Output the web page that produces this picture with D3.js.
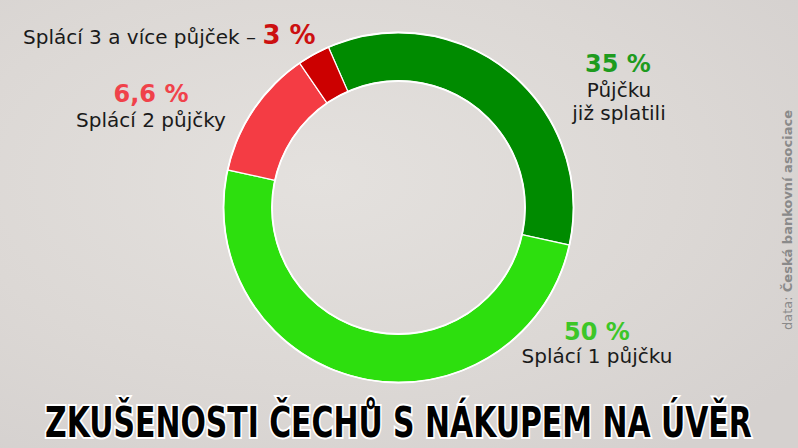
<!DOCTYPE html>
<html>
<head>
<meta charset="utf-8">
<script src="https://cdn.jsdelivr.net/npm/d3@7"></script>
<style>
  body { margin: 0; }
  svg { display: block; }
</style>
</head>
<body>
<div id="chart"></div>
<script>
document.addEventListener("DOMContentLoaded", function() {

  // slice shares as drawn (percent of the ring)
  const categories = ["Půjčku již splatili", "Splácí 1 půjčku", "Splácí 2 půjčky", "Splácí 3 a více půjček"];
  const shares = [35, 50, 12, 3];
  const valueLabels = ["35 %", "50 %", "6,6 %", "3 %"];
  const colors = ["#008b00", "#2ddf0e", "#f43c44", "#cc0000"];
  const labelColors = ["#1e9b1e", "#3cc628", "#f0424a", "#cc1010"];

  const width = 798;
  const height = 448;
  const cx = 398.5, cy = 207.5;
  const outerR = 175, innerR = 126.5;

  const svg = d3.select("#chart")
                .append("svg")
                .attr("width", width)
                .attr("height", height);

  // background
  const defs = svg.append("defs");
  const bg = defs.append("radialGradient")
                 .attr("id", "bg")
                 .attr("cx", "40%").attr("cy", "40%").attr("r", "75%");
  bg.append("stop").attr("offset", "0%").attr("stop-color", "#e4e1de");
  bg.append("stop").attr("offset", "60%").attr("stop-color", "#dcd8d5");
  bg.append("stop").attr("offset", "100%").attr("stop-color", "#d5d1cf");
  svg.append("rect")
     .attr("width", width).attr("height", height)
     .attr("fill", "url(#bg)");

  const pie = d3.pie()
                .sort(null)
                .startAngle(-23.6 * Math.PI / 180)
                .endAngle(2 * Math.PI - 23.6 * Math.PI / 180)
                .value(d => d);

  const arc = d3.arc()
                .innerRadius(innerR)
                .outerRadius(outerR);

  const g = svg.append("g")
               .attr("transform", `translate(${cx},${cy})`);

  g.selectAll("path.slice")
   .data(pie(shares))
   .enter().append("path")
   .attr("class", "slice")
   .attr("d", arc)
   .attr("fill", (d, i) => colors[i])
   .attr("stroke", "#ffffff")
   .attr("stroke-width", 1.2);

  // white rims
  g.append("circle").attr("r", outerR).attr("fill", "none").attr("stroke", "#fff").attr("stroke-width", 1.8);
  g.append("circle").attr("r", innerR).attr("fill", "none").attr("stroke", "#fff").attr("stroke-width", 1.8);

  const font = "'DejaVu Sans', sans-serif";
  const labelSize = "20px";
  const valueSize = "24px";

  // 35 %
  svg.append("text")
     .attr("x", 618).attr("y", 72)
     .attr("text-anchor", "middle")
     .style("font-family", font).style("font-weight", "bold").style("font-size", valueSize)
     .attr("fill", labelColors[0])
     .text(valueLabels[0]);
  svg.append("text")
     .attr("x", 619).attr("y", 97)
     .attr("text-anchor", "middle")
     .style("font-family", font).style("font-size", labelSize)
     .attr("fill", "#1a1a1a")
     .text("Půjčku");
  svg.append("text")
     .attr("x", 619).attr("y", 120)
     .attr("text-anchor", "middle")
     .style("font-family", font).style("font-size", labelSize)
     .attr("fill", "#1a1a1a")
     .text("již splatili");

  // 50 %
  svg.append("text")
     .attr("x", 597).attr("y", 340)
     .attr("text-anchor", "middle")
     .style("font-family", font).style("font-weight", "bold").style("font-size", valueSize)
     .attr("fill", labelColors[1])
     .text(valueLabels[1]);
  svg.append("text")
     .attr("x", 597).attr("y", 363)
     .attr("text-anchor", "middle")
     .style("font-family", font).style("font-size", labelSize)
     .attr("fill", "#1a1a1a")
     .text(categories[1]);

  // 6,6 %
  svg.append("text")
     .attr("x", 151).attr("y", 102)
     .attr("text-anchor", "middle")
     .style("font-family", font).style("font-weight", "bold").style("font-size", valueSize)
     .attr("fill", labelColors[2])
     .text(valueLabels[2]);
  svg.append("text")
     .attr("x", 151).attr("y", 127)
     .attr("text-anchor", "middle")
     .style("font-family", font).style("font-size", labelSize)
     .attr("fill", "#1a1a1a")
     .text(categories[2]);

  // 3 %
  const t3 = svg.append("text")
     .attr("x", 23).attr("y", 44)
     .style("font-family", font).style("font-size", labelSize)
     .attr("fill", "#1a1a1a");
  t3.append("tspan").text(categories[3] + " – ");
  t3.append("tspan")
    .attr("fill", labelColors[3])
    .style("font-weight", "bold").style("font-size", "26px")
    .text(valueLabels[3]);

  // source
  const src = svg.append("text")
     .attr("transform", "translate(792,330) rotate(-90)")
     .style("font-family", font).style("font-size", "13px")
     .attr("fill", "#8a8a8a");
  src.append("tspan").text("data: ");
  src.append("tspan").style("font-weight", "bold").text("Česká bankovní asociace");

  // title, squeezed horizontally to the reference width
  const title = svg.append("text")
     .attr("x", 0).attr("y", 0)
     .style("font-family", "'DejaVu Sans Condensed', 'DejaVu Sans', sans-serif")
     .style("font-weight", "bold").style("font-size", "43px")
     .attr("fill", "#000")
     .attr("stroke", "#fff").attr("stroke-width", 4)
     .style("paint-order", "stroke")
     .text("ZKUŠENOSTI ČECHŮ S NÁKUPEM NA ÚVĚR");
  const natural = title.node().getComputedTextLength();
  title.attr("transform", `translate(45,437) scale(${707 / natural},1)`);
});
</script>
</body>
</html>
